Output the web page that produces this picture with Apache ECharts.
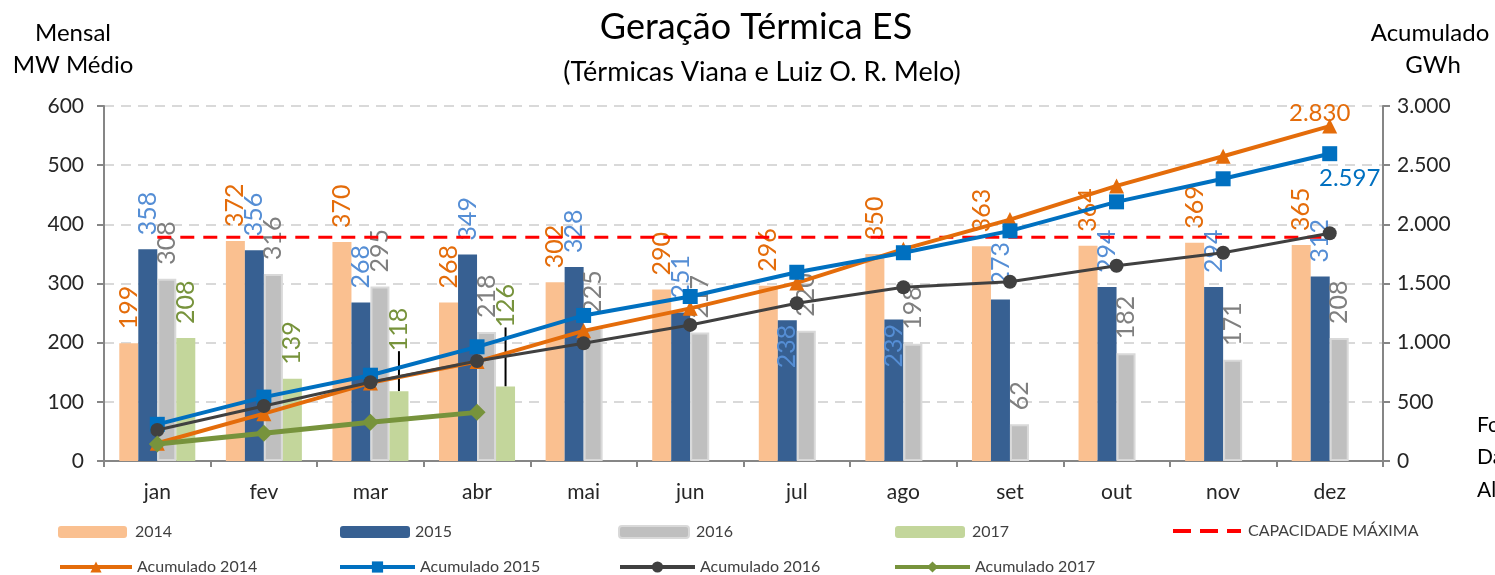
<!DOCTYPE html>
<html>
<head>
<meta charset="utf-8">
<script src="https://cdn.jsdelivr.net/npm/echarts@6/dist/echarts.min.js"></script>
<style>
  html, body { margin: 0; padding: 0; background: #fff; }
  #main { width: 1495px; height: 575px; }
</style>
</head>
<body>
<div id="main"></div>
<script>
// dados
var meses = ['jan', 'fev', 'mar', 'abr', 'mai', 'jun', 'jul', 'ago', 'set', 'out', 'nov', 'dez'];
var mensal2014 = [199, 372, 370, 268, 302, 290, 296, 350, 363, 364, 369, 365];
var mensal2015 = [358, 356, 268, 349, 328, 251, 238, 239, 273, 294, 294, 312];
var mensal2016 = [308, 316, 295, 218, 225, 217, 220, 198, 62, 182, 171, 208];
var mensal2017 = [208, 139, 118, 126];
var capacidade = [378, 378, 378, 378, 378, 378, 378, 378, 378, 378, 378, 378];
var acum2014 = [150, 400, 660, 840, 1100, 1290, 1505, 1790, 2040, 2325, 2575, 2830];
var acum2015 = [310, 540, 725, 965, 1230, 1390, 1595, 1760, 1945, 2190, 2385, 2597];
var acum2016 = [262, 465, 665, 845, 995, 1150, 1333, 1468, 1515, 1650, 1760, 1925];
var acum2017 = [144, 234, 327, 411];

var FONT = 'Lato';

function fmtMil(v) {
    return String(v).replace(/\B(?=(\d{3})+(?!\d))/g, '.');
}

function barLabel(cor) {
    return {
        show: true,
        position: 'top',
        rotate: 90,
        align: 'left',
        verticalAlign: 'middle',
        distance: 14,
        fontSize: 25,
        fontFamily: FONT,
        color: cor
    };
}

// rotulo so no ultimo ponto
function endLabel(cor, pos, offset) {
    return {
        show: true,
        position: pos,
        offset: offset,
        fontSize: 24,
        fontFamily: FONT,
        color: cor,
        formatter: function (p) {
            return p.dataIndex === 11 ? fmtMil(p.value) : '';
        }
    };
}

function legenda(nome, left, top, w, h, gap) {
    return {
        left: left,
        top: top,
        padding: 0,
        itemWidth: w,
        itemHeight: h,
        data: [nome],
        lineStyle: { width: 4 },
        textStyle: { fontSize: 16, fontFamily: FONT, color: '#404040', padding: [0, 0, 0, gap] },
        selectedMode: false
    };
}

var iconeTracejado = 'path://M0,0 L18,0 L18,4 L0,4 Z M27,0 L45,0 L45,4 L27,4 Z M54,0 L68,0 L68,4 L54,4 Z';

var myChart = echarts.init(document.getElementById('main'));
myChart.setOption({
    animation: false,
    textStyle: { fontFamily: FONT },
    graphic: [
        { type: 'text', x: 756, y: 9, style: { text: 'Geração Térmica ES', font: '36px Lato', fill: '#000', align: 'center' } },
        { type: 'text', x: 762, y: 59, style: { text: '(Térmicas Viana e Luiz O. R. Melo)', font: '27px Lato', fill: '#000', align: 'center' } },
        { type: 'text', x: 73, y: 33, style: { text: 'Mensal', font: '24px Lato', fill: '#000', align: 'center', verticalAlign: 'middle' } },
        { type: 'text', x: 73, y: 65, style: { text: 'MW Médio', font: '24px Lato', fill: '#000', align: 'center', verticalAlign: 'middle' } },
        { type: 'text', x: 1430, y: 33, style: { text: 'Acumulado', font: '24px Lato', fill: '#000', align: 'center', verticalAlign: 'middle' } },
        { type: 'text', x: 1433, y: 65, style: { text: 'GWh', font: '24px Lato', fill: '#000', align: 'center', verticalAlign: 'middle' } },
        { type: 'text', x: 1477, y: 425, style: { text: 'Fonte:', font: '21px Lato', fill: '#000', verticalAlign: 'middle' } },
        { type: 'text', x: 1477, y: 457, style: { text: 'Dados', font: '21px Lato', fill: '#000', verticalAlign: 'middle' } },
        { type: 'text', x: 1477, y: 490, style: { text: 'Além', font: '21px Lato', fill: '#000', verticalAlign: 'middle' } }
    ],
    legend: [
        legenda('2014', 58, 524, 69, 12, 3),
        legenda('2015', 340, 524, 70, 12, 0),
        legenda('2016', 618, 524, 70, 12, 2),
        legenda('2017', 895, 524, 70, 12, 2),
        legenda({ name: 'CAPACIDADE MÁXIMA', icon: iconeTracejado, itemStyle: { color: '#FF0000' } }, 1173, 523, 68, 4, 2),
        legenda('Acumulado 2014', 58, 559, 72, 14, 0),
        legenda('Acumulado 2015', 338, 559, 75, 14, 0),
        legenda('Acumulado 2016', 618, 559, 75, 14, 0),
        legenda('Acumulado 2017', 893, 559, 75, 14, 0)
    ],
    grid: {
        left: 104,
        right: 112,
        top: 106,
        bottom: 114
    },
    xAxis: {
        type: 'category',
        data: meses,
        axisLine: { lineStyle: { color: '#868686', width: 2 } },
        axisTick: { show: true, length: 6, lineStyle: { color: '#868686', width: 2 } },
        axisLabel: { fontSize: 21, fontFamily: FONT, color: '#262626', margin: 21 }
    },
    yAxis: [
        {
            type: 'value',
            min: 0,
            max: 600,
            interval: 100,
            axisLine: { show: true, lineStyle: { color: '#868686', width: 2 } },
            axisTick: { show: true, length: 7, lineStyle: { color: '#868686', width: 2 } },
            axisLabel: { fontSize: 21, fontFamily: FONT, color: '#262626', margin: 20 },
            splitLine: { lineStyle: { color: '#D9D9D9', type: [10, 7], width: 2 } }
        },
        {
            type: 'value',
            min: 0,
            max: 3000,
            interval: 500,
            axisLine: { show: true, lineStyle: { color: '#868686', width: 2 } },
            axisTick: { show: true, length: 7, lineStyle: { color: '#868686', width: 2 } },
            axisLabel: { fontSize: 21, fontFamily: FONT, color: '#262626', margin: 14, formatter: fmtMil },
            splitLine: { show: false }
        }
    ],
    series: [
        {
            name: '2014',
            type: 'bar',
            data: mensal2014,
            barWidth: 19,
            barGap: '0%',
            itemStyle: { color: '#FAC090' },
            label: barLabel('#E46C0A')
        },
        {
            name: '2015',
            type: 'bar',
            data: mensal2015,
            barWidth: 19,
            barGap: '0%',
            itemStyle: { color: '#376092' },
            label: barLabel('#558ED5'),
            // rotulo girado: dx negativo desce o texto
            labelLayout: function (p) {
                if (p.dataIndex === 6 || p.dataIndex === 7) {
                    return { dx: -62 };
                }
            }
        },
        {
            name: '2016',
            type: 'bar',
            data: mensal2016,
            barWidth: 19,
            barGap: '0%',
            itemStyle: { color: '#BFBFBF', borderColor: '#D9D9D9', borderWidth: 2 },
            label: barLabel('#7F7F7F')
        },
        {
            name: '2017',
            type: 'bar',
            data: mensal2017.map(function (v, i) {
                return { value: v, labelLine: { show: i >= 2 } };
            }),
            barWidth: 19,
            barGap: '0%',
            itemStyle: { color: '#C3D69B' },
            label: barLabel('#77933C'),
            labelLine: { lineStyle: { color: '#000', width: 2 } },
            labelLayout: function (p) {
                if (p.dataIndex === 2) return { dx: 26 };
                if (p.dataIndex === 3) return { dx: 45 };
            }
        },
        {
            name: 'CAPACIDADE MÁXIMA',
            type: 'line',
            data: capacidade,
            symbol: 'none',
            z: 3,
            lineStyle: { color: '#FF0000', width: 3, type: [14, 9] },
            itemStyle: { color: '#FF0000' }
        },
        {
            name: 'Acumulado 2014',
            type: 'line',
            yAxisIndex: 1,
            data: acum2014,
            symbol: 'triangle',
            symbolSize: 15,
            z: 5,
            lineStyle: { color: '#E46C0A', width: 4 },
            itemStyle: { color: '#E46C0A' },
            label: endLabel('#E46C0A', 'top', [-10, 12])
        },
        {
            name: 'Acumulado 2015',
            type: 'line',
            yAxisIndex: 1,
            data: acum2015,
            symbol: 'rect',
            symbolSize: 15,
            z: 6,
            lineStyle: { color: '#0070C0', width: 4 },
            itemStyle: { color: '#0070C0' },
            label: endLabel('#0070C0', 'bottom', [20, 0])
        },
        {
            name: 'Acumulado 2016',
            type: 'line',
            yAxisIndex: 1,
            data: acum2016,
            symbol: 'circle',
            symbolSize: 14,
            z: 7,
            lineStyle: { color: '#404040', width: 3 },
            itemStyle: { color: '#404040' }
        },
        {
            name: 'Acumulado 2017',
            type: 'line',
            yAxisIndex: 1,
            data: acum2017,
            symbol: 'diamond',
            symbolSize: 17,
            z: 7,
            lineStyle: { color: '#77933C', width: 5 },
            itemStyle: { color: '#77933C' }
        }
    ]
});
</script>
</body>
</html>
